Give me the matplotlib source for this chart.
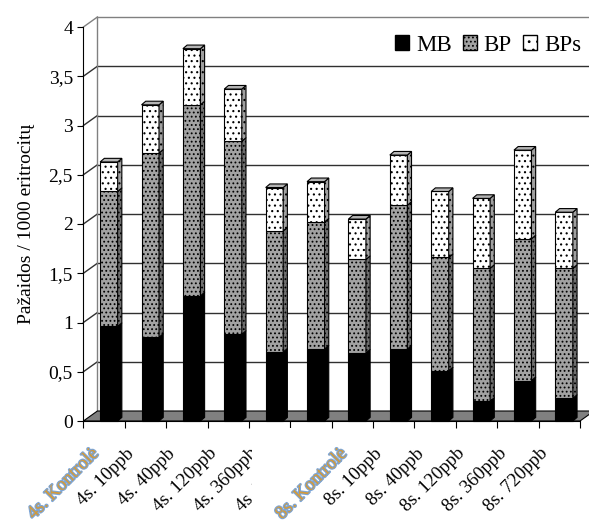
import matplotlib
matplotlib.use("Agg")
import matplotlib.pyplot as plt
from matplotlib.patches import Polygon, Rectangle, Patch
from matplotlib.ticker import FuncFormatter
import matplotlib.transforms as mtransforms
import matplotlib.patheffects as pe

plt.rcParams['font.family'] = ['Liberation Serif', 'DejaVu Serif']
plt.rcParams['hatch.linewidth'] = 0.8

categories = ["4s. Kontrolė", "4s. 10ppb", "4s. 40ppb", "4s. 120ppb", "4s. 360ppb", "4s. 720ppb",
              "8s. Kontrolė", "8s. 10ppb", "8s. 40ppb", "8s. 120ppb", "8s. 360ppb", "8s. 720ppb"]
MB = [0.96, 0.85, 1.27, 0.88, 0.70, 0.73, 0.69, 0.73, 0.51, 0.20, 0.41, 0.23]
BP = [1.37, 1.87, 1.94, 1.96, 1.23, 1.29, 0.95, 1.46, 1.15, 1.35, 1.44, 1.32]
BPs = [0.30, 0.49, 0.57, 0.53, 0.44, 0.41, 0.41, 0.51, 0.67, 0.71, 0.90, 0.57]
series_names = ["MB", "BP", "BPs"]
yticks = [0, 0.5, 1, 1.5, 2, 2.5, 3, 3.5, 4]

W, H = 589, 522
fig = plt.figure(figsize=(W / 100, H / 100), dpi=100)
x0, x1, y0, y1 = 83.4, 580.0, 421.0, 27.0
ax = fig.add_axes([x0 / W, (H - y0) / H, (x1 - x0) / W, (y0 - y1) / H])
n = len(categories)
ax.set_xlim(0, n)
ax.set_ylim(0, 4)
pxx = (x1 - x0) / n
pxy = (y0 - y1) / 4.0

# 3D offsets (data units)
DX, DY = 14 / pxx, 10 / pxy        # back wall
BDX = 4.8 / pxx                    # bar front horizontal shift
SDX, SDY = 4.2 / pxx, 3.6 / pxy    # bar depth
BW = 17.5 / pxx

# back wall gridlines and side wall
for v in yticks[1:]:
    col = '#808080' if v == 4 else '#303030'
    ax.plot([DX, n + DX + 1], [v + DY, v + DY], color=col, lw=1.0, clip_on=False, zorder=1)
    ax.plot([0, DX], [v, v + DY], color=col, lw=1.0, clip_on=False, zorder=1)
ax.plot([DX, DX], [DY, 4 + DY], color='#808080', lw=1.0, clip_on=False, zorder=1)
# floor
ax.add_patch(Polygon([(0, 0), (n, 0), (n + DX, DY), (DX, DY)], closed=True,
                     facecolor='#808080', edgecolor='black', lw=0.8, clip_on=False, zorder=2))

styles = [dict(fc='black', sfc='black', hatch=None),
          dict(fc='#a2a2a2', sfc='#6e6e6e', hatch='....'),
          dict(fc='white', sfc='#a0a0a0', hatch='...')]

for i in range(n):
    bottom = 0.0
    vals = [MB[i], BP[i], BPs[i]]
    xl = i + 0.5 - BW / 2 + BDX
    xr = xl + BW
    for k, v in enumerate(vals):
        st = styles[k]
        top = bottom + v
        ax.add_patch(Rectangle((xl, bottom), BW, v, facecolor=st['fc'], edgecolor='black',
                               hatch=st['hatch'], lw=0.8, zorder=3, clip_on=False))
        ax.add_patch(Polygon([(xr, bottom), (xr + SDX, bottom + SDY), (xr + SDX, top + SDY), (xr, top)],
                             closed=True, facecolor=st['sfc'], edgecolor='black', hatch=st['hatch'],
                             lw=0.8, zorder=3, clip_on=False))
        bottom = top
    ax.add_patch(Polygon([(xl, bottom), (xr, bottom), (xr + SDX, bottom + SDY), (xl + SDX, bottom + SDY)],
                         closed=True, facecolor='#b4b4b4', edgecolor='black', lw=0.8, zorder=3, clip_on=False))

# axes spines / ticks
for s in ['top', 'right']:
    ax.spines[s].set_visible(False)
ax.spines['left'].set_zorder(4)
ax.spines['bottom'].set_zorder(4)
ax.set_yticks(yticks)
ax.yaxis.set_major_formatter(FuncFormatter(lambda v, p: ('%g' % v).replace('.', ',')))
ax.set_xticks(range(n + 1))
ax.set_xticklabels([])
ax.tick_params(axis='y', length=4.5, width=0.8, pad=3, labelsize=14)
ax.tick_params(axis='x', length=5, width=0.8)
ax.set_ylabel("Pažaidos / 1000 eritrocitų", fontsize=14, labelpad=10)

# x labels
for i, lab in enumerate(categories):
    kontrole = 'Kontrol' in lab
    dxo = -14 if kontrole else -20
    tr = mtransforms.offset_copy(ax.transData, fig=fig, x=dxo, y=-24, units='dots')
    t = ax.text(i + 0.5, 0, lab, transform=tr, rotation=45, rotation_mode='anchor',
                ha='right', va='top', fontsize=13.5, clip_on=False,
                color='#d39a3a' if kontrole else 'black', zorder=6 if kontrole else 4)
    if kontrole:
        t.set_path_effects([pe.withStroke(linewidth=1.6, foreground='#7ea6d6')])

# white patch hiding part of labels (as in the source)
ax.add_patch(Rectangle((252 / W, 0), 50 / W, (H - 428) / H, transform=fig.transFigure,
                       facecolor='white', edgecolor='none', zorder=5, clip_on=False))

handles = [Patch(facecolor='black', edgecolor='black'),
           Patch(facecolor='#a2a2a2', edgecolor='black', hatch='....'),
           Patch(facecolor='white', edgecolor='black', hatch='..')]
fig.legend(handles, series_names, loc='center right', bbox_to_anchor=(581 / W, 1 - 45 / H),
           frameon=False, ncol=3, fontsize=16.5, handlelength=0.6, handleheight=0.6,
           columnspacing=0.5, handletextpad=0.3, borderaxespad=0, borderpad=0)

fig.savefig("out.png", dpi=100)
